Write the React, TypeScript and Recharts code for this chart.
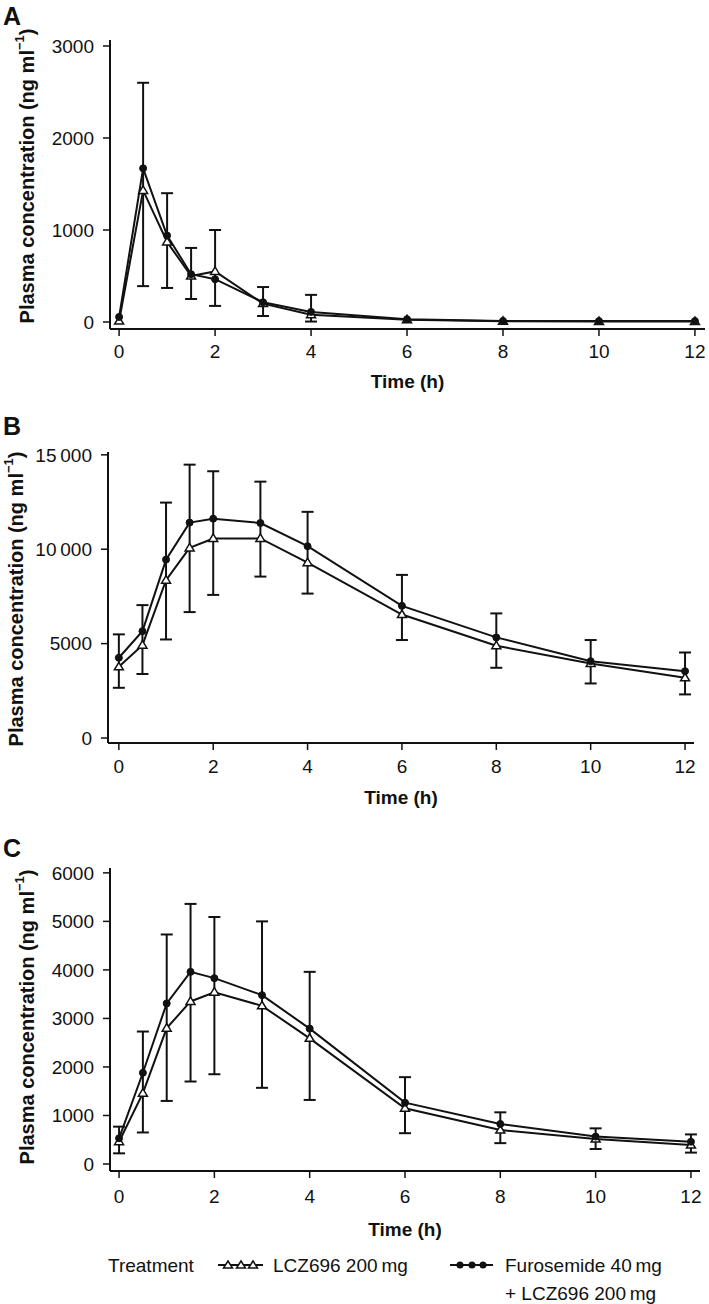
import React from 'react'
import { LineChart, Line, XAxis, YAxis, ErrorBar, Label } from 'recharts'

const FONT = '"Liberation Sans", Arial, Helvetica, sans-serif'
const INK = '#111'

// sampling times (h)
const hours = [0, 0.5, 1, 1.5, 2, 3, 4, 6, 8, 10, 12]
const hourTicks = [0, 2, 4, 6, 8, 10, 12]

// Panel A
const furoA = [55, 1670, 940, 520, 465, 215, 110, 30, 12, 10, 10]
const lczA = [10, 1430, 870, 500, 550, 200, 80, 25, 8, 5, 5]
const errLowA = [null, 390, 370, 250, 175, 65, 5, null, null, null, null]
const errHighA = [null, 2600, 1400, 805, 1000, 380, 295, null, null, null, null]
const yTicksA = [0, 1000, 2000, 3000]

// Panel B
const furoB = [4250, 5660, 9450, 11410, 11620, 11390, 10160, 7000, 5330, 4070, 3540]
const lczB = [3770, 4920, 8360, 10070, 10570, 10570, 9290, 6540, 4890, 3950, 3190]
const errLowB = [2660, 3390, 5220, 6670, 7580, 8550, 7650, 5190, 3720, 2890, 2310]
const errHighB = [5490, 7040, 12470, 14480, 14130, 13580, 11980, 8640, 6600, 5190, 4530]
const yTicksB = [0, 5000, 10000, 15000]

// Panel C
const furoC = [530, 1880, 3310, 3960, 3830, 3480, 2790, 1265, 825, 565, 460]
const lczC = [460, 1460, 2800, 3350, 3540, 3260, 2590, 1150, 700, 515, 390]
const errLowC = [220, 650, 1300, 1700, 1850, 1570, 1320, 635, 430, 310, 235]
const errHighC = [770, 2730, 4730, 5360, 5090, 5000, 3960, 1790, 1065, 735, 610]
const yTicksC = [0, 1000, 2000, 3000, 4000, 5000, 6000]

type Num = number | null

function buildRows(furo: number[], lcz: number[], lo: Num[], hi: Num[]) {
  return hours.map((t, i) => {
    const row: any = { t, furo: furo[i], lcz: lcz[i] }
    const l = lo[i]
    const h = hi[i]
    if (l != null && h != null) row.err = [furo[i] - l, h - furo[i]]
    return row
  })
}

const fmtThousands = (v: number) => (v >= 10000 ? `${v / 1000}\u2009000` : `${v}`)

function TriangleDot(props: any) {
  const { cx, cy } = props
  if (cx == null || cy == null) return <g />
  return (
    <polygon
      points={`${cx},${cy - 4.5} ${cx - 4.5},${cy + 3} ${cx + 4.5},${cy + 3}`}
      fill="#fff"
      stroke={INK}
      strokeWidth={1.5}
    />
  )
}

interface PanelProps {
  letter: string
  top: number
  height: number
  letterTop: number
  marginTop: number
  marginRight: number
  plotBottom: number
  axisX: number
  rows: any[]
  xDomain: [number, number]
  yDomain: [number, number]
  yTicks: number[]
  xTickMargin: number
  titleX: number
  titleY: number
  timeDy: number
}

function Panel(p: PanelProps) {
  const xAxisHeight = p.height - (p.plotBottom - p.top)
  const tickStyle = { fontSize: 19, fill: INK, fontFamily: FONT }
  return (
    <div style={{ position: 'absolute', left: 0, top: p.top, width: 709, height: p.height }}>
      <div style={{ position: 'absolute', left: 3, top: p.letterTop, fontFamily: FONT, fontWeight: 700, fontSize: 25, lineHeight: '25px', color: INK }}>
        {p.letter}
      </div>
      <LineChart
        width={709}
        height={p.height}
        data={p.rows}
        margin={{ top: p.marginTop, right: p.marginRight, left: 0, bottom: 0 }}
      >
        <XAxis
          type="number"
          dataKey="t"
          domain={p.xDomain}
          ticks={hourTicks}
          allowDataOverflow
          height={xAxisHeight}
          tick={tickStyle}
          tickSize={7}
          tickMargin={p.xTickMargin}
          axisLine={{ stroke: INK, strokeWidth: 2 }}
          tickLine={{ stroke: INK, strokeWidth: 1.5 }}
        >
          <Label
            content={(lp: any) => {
              const vb = lp.viewBox || {}
              return (
                <text
                  x={vb.x + vb.width / 2}
                  y={vb.y + p.timeDy}
                  textAnchor="middle"
                  fontFamily={FONT}
                  fontWeight={700}
                  fontSize={19}
                  fill={INK}
                >
                  Time (h)
                </text>
              )
            }}
          />
        </XAxis>
        <YAxis
          type="number"
          domain={p.yDomain}
          ticks={p.yTicks}
          allowDataOverflow
          width={p.axisX}
          tick={tickStyle}
          tickFormatter={fmtThousands}
          tickSize={7}
          tickMargin={9}
          axisLine={{ stroke: INK, strokeWidth: 2 }}
          tickLine={{ stroke: INK, strokeWidth: 1.5 }}
        >
          <Label
            content={() => (
              <text
                x={p.titleX}
                y={p.titleY}
                transform={`rotate(-90, ${p.titleX}, ${p.titleY})`}
                textAnchor="middle"
                dominantBaseline="central"
                fontFamily={FONT}
                fontWeight={700}
                fontSize={20}
                fill={INK}
              >
                Plasma concentration (ng ml
                <tspan fontSize={13} baselineShift="super">−1</tspan>
                )
              </text>
            )}
          />
        </YAxis>
        <Line
          type="linear"
          dataKey="lcz"
          stroke={INK}
          strokeWidth={2}
          dot={(dp: any) => <TriangleDot key={`tri-${dp.index}`} {...dp} />}
          isAnimationActive={false}
        />
        <Line
          type="linear"
          dataKey="furo"
          stroke={INK}
          strokeWidth={2}
          dot={{ r: 3.5, fill: INK, stroke: INK, strokeWidth: 1 }}
          isAnimationActive={false}
        >
          <ErrorBar dataKey="err" width={6} stroke={INK} strokeWidth={2} direction="y" />
        </Line>
      </LineChart>
    </div>
  )
}

function TreatmentLegend() {
  const txt = { fontFamily: FONT, fontSize: 19, fill: INK }
  const triX = [228, 241, 253]
  const dotX = [460, 472, 483]
  return (
    <svg width={709} height={64} style={{ position: 'absolute', left: 0, top: 1240 }}>
      <text x={108} y={32} {...txt}>Treatment</text>
      <line x1={218} x2={263} y1={25} y2={25} stroke={INK} strokeWidth={2} />
      {triX.map((x) => (
        <polygon key={x} points={`${x},${21} ${x - 4.5},${28} ${x + 4.5},${28}`} fill="#fff" stroke={INK} strokeWidth={1.5} />
      ))}
      <text x={273} y={32} {...txt}>LCZ696 200{'\u2009'}mg</text>
      <line x1={450} x2={493} y1={25} y2={25} stroke={INK} strokeWidth={2} />
      {dotX.map((x) => (
        <circle key={x} cx={x} cy={25} r={3.5} fill={INK} />
      ))}
      <text x={505} y={32} {...txt}>Furosemide 40{'\u2009'}mg</text>
      <text x={505} y={60} {...txt}>+ LCZ696 200{'\u2009'}mg</text>
    </svg>
  )
}

export default function App() {
  const rowsA = buildRows(furoA, lczA, errLowA, errHighA)
  const rowsB = buildRows(furoB, lczB, errLowB, errHighB)
  const rowsC = buildRows(furoC, lczC, errLowC, errHighC)
  return (
    <div style={{ position: 'absolute', left: 0, top: 0, width: 709, height: 1304, background: '#fff', overflow: 'hidden' }}>
      <Panel
        letter="A"
        top={0}
        height={400}
        letterTop={4}
        marginTop={40}
        marginRight={4}
        plotBottom={329}
        axisX={110}
        rows={rowsA}
        xDomain={[-0.19, 12.21]}
        yDomain={[-76, 3065]}
        yTicks={yTicksA}
        xTickMargin={9}
        titleX={27}
        titleY={176}
        timeDy={59}
      />
      <Panel
        letter="B"
        top={400}
        height={410}
        letterTop={14}
        marginTop={52}
        marginRight={15}
        plotBottom={743}
        axisX={108}
        rows={rowsB}
        xDomain={[-0.23, 12.19]}
        yDomain={[-264, 15150]}
        yTicks={yTicksB}
        xTickMargin={10}
        titleX={16}
        titleY={199}
        timeDy={61}
      />
      <Panel
        letter="C"
        top={800}
        height={440}
        letterTop={36}
        marginTop={68}
        marginRight={9}
        plotBottom={1171}
        axisX={110}
        rows={rowsC}
        xDomain={[-0.19, 12.19]}
        yDomain={[-144, 6100]}
        yTicks={yTicksC}
        xTickMargin={12}
        titleX={27}
        titleY={217}
        timeDy={65}
      />
      <TreatmentLegend />
    </div>
  )
}
